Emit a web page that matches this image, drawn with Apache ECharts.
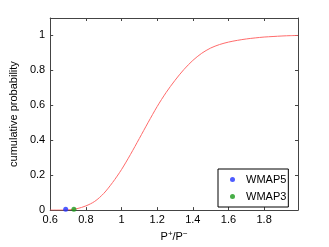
<!DOCTYPE html>
<html>
<head>
<meta charset="utf-8">
<script src="https://cdn.jsdelivr.net/npm/echarts@6/dist/echarts.min.js"></script>
<style>html,body{margin:0;padding:0;background:#fff;}#c{width:329px;height:247px;}</style>
</head>
<body>
<div id="c"></div>
<script>
const cdfX = [0.60,0.65,0.70,0.75,0.80,0.85,0.90,0.95,1.00,1.05,1.10,1.15,1.20,1.25,1.30,1.35,1.40,1.45,1.50,1.55,1.60,1.65,1.70,1.75,1.80,1.85,1.90,1.95,1.99];
const cdfY = [0,0,0.001,0.008,0.024,0.05,0.095,0.158,0.232,0.318,0.41,0.503,0.593,0.673,0.743,0.805,0.857,0.898,0.928,0.948,0.962,0.972,0.98,0.986,0.991,0.994,0.997,0.999,1.0];
const wmap5 = [0.687, 0.005];
const wmap3 = [0.733, 0.005];
const xTicks = {min: 0.6, max: 1.99, interval: 0.2};
const yTicks = {min: 0, max: 1.1, interval: 0.2};

const font = "'Liberation Sans', Arial, Helvetica, sans-serif";
const axisCol = '#444';
const chart = echarts.init(document.getElementById('c'), null, {renderer: 'canvas'});
const baseAxis = {
  type: 'value',
  axisLine: {show: true, onZero: false, lineStyle: {color: axisCol, width: 1}},
  axisTick: {show: true, inside: true, length: 3, lineStyle: {color: axisCol}},
  splitLine: {show: false},
};
chart.setOption({
  animation: false,
  textStyle: {fontFamily: font},
  grid: {left: 43, top: 18, width: 255, height: 199},
  xAxis: [
    Object.assign({}, baseAxis, {
      position: 'bottom', min: xTicks.min, max: xTicks.max, interval: xTicks.interval,
      axisLabel: {color: '#000', fontSize: 11, fontFamily: font, margin: 4, showMaxLabel: false},
      name: '{n|P}{s|+}{n|/P}{s|\u2212}', nameLocation: 'middle', nameGap: 9,
      nameTextStyle: {rich: {n: {fontSize: 11, color: '#000', fontFamily: font}, s: {fontSize: 8, color: '#000', fontFamily: font, verticalAlign: 'top', padding: [0,0,5,0]}}}
    }),
    Object.assign({}, baseAxis, {
      position: 'top', min: xTicks.min, max: xTicks.max, interval: xTicks.interval,
      axisLabel: {show: false}
    })
  ],
  yAxis: [
    Object.assign({}, baseAxis, {
      position: 'left', min: yTicks.min, max: yTicks.max, interval: yTicks.interval,
      axisLabel: {color: '#000', fontSize: 11, fontFamily: font, margin: 5, showMaxLabel: false},
      name: 'cumulative probability', nameLocation: 'middle', nameGap: 17,
      nameTextStyle: {fontSize: 11, color: '#000', fontFamily: font}
    }),
    Object.assign({}, baseAxis, {
      position: 'right', min: yTicks.min, max: yTicks.max, interval: yTicks.interval,
      axisLabel: {show: false}
    })
  ],
  legend: {
    orient: 'vertical', left: 218, top: 169,
    padding: [4, 2, 4, 12],
    itemGap: 4, itemWidth: 5, itemHeight: 5,
    borderColor: '#000', borderWidth: 1, backgroundColor: '#fff',
    data: [{name: 'WMAP5', icon: 'circle'}, {name: 'WMAP3', icon: 'circle'}],
    formatter: name => '{g|}{t|' + name + '}',
    textStyle: {fontSize: 11, color: '#000', fontFamily: font, lineHeight: 13,
      rich: {g: {width: 6}, t: {fontSize: 11, color: '#000', fontFamily: font, lineHeight: 13}}}
  },
  series: [
    {
      type: 'line', name: 'cdf', showSymbol: false, smooth: 0.3,
      data: cdfX.map((x, i) => [x, cdfY[i]]),
      lineStyle: {color: '#ff6b6b', width: 1}, itemStyle: {color: '#ff6b6b'}, z: 2
    },
    {
      type: 'scatter', name: 'WMAP5', symbolSize: 5, data: [wmap5],
      itemStyle: {color: '#2233ff'}, z: 3
    },
    {
      type: 'scatter', name: 'WMAP3', symbolSize: 5, data: [wmap3],
      itemStyle: {color: '#1a9a1a'}, z: 3
    }
  ]
});
</script>
</body>
</html>
